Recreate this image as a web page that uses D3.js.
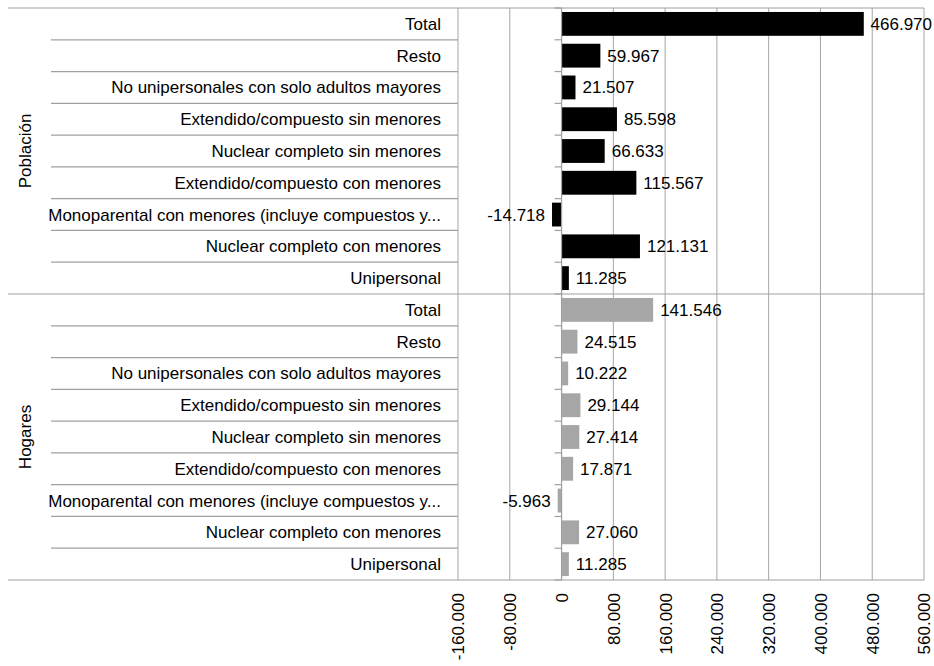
<!DOCTYPE html>
<html>
<head>
<meta charset="utf-8">
<script src="https://cdn.jsdelivr.net/npm/d3@7"></script>
<style>
  body { margin: 0; background: #fff; }
  svg text { font-family: "Liberation Sans", Arial, sans-serif; fill: #000; }
</style>
</head>
<body>
<svg id="chart"></svg>
<script>
// Datos
const groups = ["Población", "Hogares"];
const categories = [
    "Total",
    "Resto",
    "No unipersonales con solo adultos mayores",
    "Extendido/compuesto sin menores",
    "Nuclear completo sin menores",
    "Extendido/compuesto con menores",
    "Monoparental con menores (incluye compuestos y...",
    "Nuclear completo con menores",
    "Unipersonal"
];
const poblacionValues = [466970, 59967, 21507, 85598, 66633, 115567, -14718, 121131, 11285];
const hogaresValues = [141546, 24515, 10222, 29144, 27414, 17871, -5963, 27060, 11285];
const xTicks = [-160000, -80000, 0, 80000, 160000, 240000, 320000, 400000, 480000, 560000];
const groupColors = ["#000000", "#a6a6a6"];

const width = 934, height = 666;
const margin = { top: 8, right: 10, bottom: 86, left: 458 };
const outerLeft = 8, innerLeft = 51;
const fontSize = "17px";

const svg = d3.select("#chart").attr("width", width).attr("height", height);

const rows = [];
groups.forEach((g, gi) => {
    const vals = gi === 0 ? poblacionValues : hogaresValues;
    categories.forEach((c, ci) => rows.push({ key: gi + "-" + ci, group: g, gi, cat: c, value: vals[ci] }));
});

const x = d3.scaleLinear()
    .domain([xTicks[0], xTicks[xTicks.length - 1]])
    .range([margin.left, width - margin.right]);

const y = d3.scaleBand()
    .domain(rows.map(d => d.key))
    .range([margin.top, 580])
    .paddingInner(0.25)
    .paddingOuter(0.125);

const step = y.step();
const rowTop = i => margin.top + i * step;

// Líneas de la cuadrícula
svg.append("g")
    .selectAll("line")
    .data(xTicks)
    .join("line")
    .attr("x1", d => x(d)).attr("x2", d => x(d))
    .attr("y1", margin.top).attr("y2", 580)
    .attr("stroke", "#a6a6a6")
    .attr("stroke-width", 1);

// Separadores de categorías
const sep = svg.append("g").attr("stroke", "#a0a0a0").attr("stroke-width", 1.2);
rows.forEach((d, i) => {
    if (i === 0 || i === categories.length) return;
    sep.append("line")
        .attr("x1", innerLeft).attr("x2", margin.left)
        .attr("y1", rowTop(i)).attr("y2", rowTop(i));
});
// Separadores de grupos (cruzan todo el gráfico)
[0, categories.length, rows.length].forEach(i => {
    sep.append("line")
        .attr("x1", outerLeft).attr("x2", width - margin.right)
        .attr("y1", rowTop(i)).attr("y2", rowTop(i));
});

// Barras
svg.append("g")
    .selectAll("rect")
    .data(rows)
    .join("rect")
    .attr("x", d => x(Math.min(0, d.value)))
    .attr("y", d => y(d.key))
    .attr("width", d => Math.abs(x(d.value) - x(0)))
    .attr("height", y.bandwidth())
    .attr("fill", d => groupColors[d.gi]);

// Eje de categorías en cero con marcas
const zeroAxis = svg.append("g").attr("stroke", "#a0a0a0").attr("stroke-width", 1.2);
zeroAxis.append("line")
    .attr("x1", x(0)).attr("x2", x(0))
    .attr("y1", margin.top).attr("y2", 580);
d3.range(rows.length + 1).forEach(i => {
    zeroAxis.append("line")
        .attr("x1", x(0) - 7).attr("x2", x(0))
        .attr("y1", rowTop(i)).attr("y2", rowTop(i));
});

// Etiquetas de valores (formato con punto de miles y guion)
const fmt = v => d3.format(",")(v).replace(/,/g, ".").replace("\u2212", "-");
svg.append("g")
    .selectAll("text")
    .data(rows)
    .join("text")
    .attr("y", d => y(d.key) + y.bandwidth() / 2 + 6)
    .style("font-size", fontSize)
    .text(d => fmt(d.value))
    .each(function(d) {
        const t = d3.select(this);
        const w = this.getComputedTextLength();
        if (d.value < 0) {
            t.attr("x", x(d.value) - 7).attr("text-anchor", "end");
        } else {
            t.attr("x", Math.min(x(d.value) + 7, width - w - 2));
        }
    });

// Etiquetas de categorías
svg.append("g")
    .selectAll("text")
    .data(rows)
    .join("text")
    .attr("x", margin.left - 17)
    .attr("y", d => y(d.key) + y.bandwidth() / 2 + 6)
    .attr("text-anchor", "end")
    .style("font-size", fontSize)
    .text(d => d.cat);

// Etiquetas de grupos
svg.append("g")
    .selectAll("text")
    .data(groups)
    .join("text")
    .attr("transform", (d, i) => {
        const cy = (rowTop(i * categories.length) + rowTop((i + 1) * categories.length)) / 2;
        return `translate(25,${cy}) rotate(-90)`;
    })
    .attr("text-anchor", "middle")
    .attr("dy", "0.35em")
    .style("font-size", fontSize)
    .text(d => d);

// Eje X con etiquetas giradas
const xAxis = svg.append("g")
    .attr("transform", `translate(0,580)`)
    .call(d3.axisBottom(x).tickValues(xTicks).tickSize(0).tickFormat(fmt));
xAxis.select(".domain").remove();
xAxis.selectAll("text")
    .attr("transform", "rotate(-90)")
    .attr("x", -13)
    .attr("y", 0)
    .attr("dy", "0.35em")
    .attr("text-anchor", "end")
    .style("font-size", fontSize)
    .style("font-family", "Liberation Sans, Arial, sans-serif");
</script>
</body>
</html>
